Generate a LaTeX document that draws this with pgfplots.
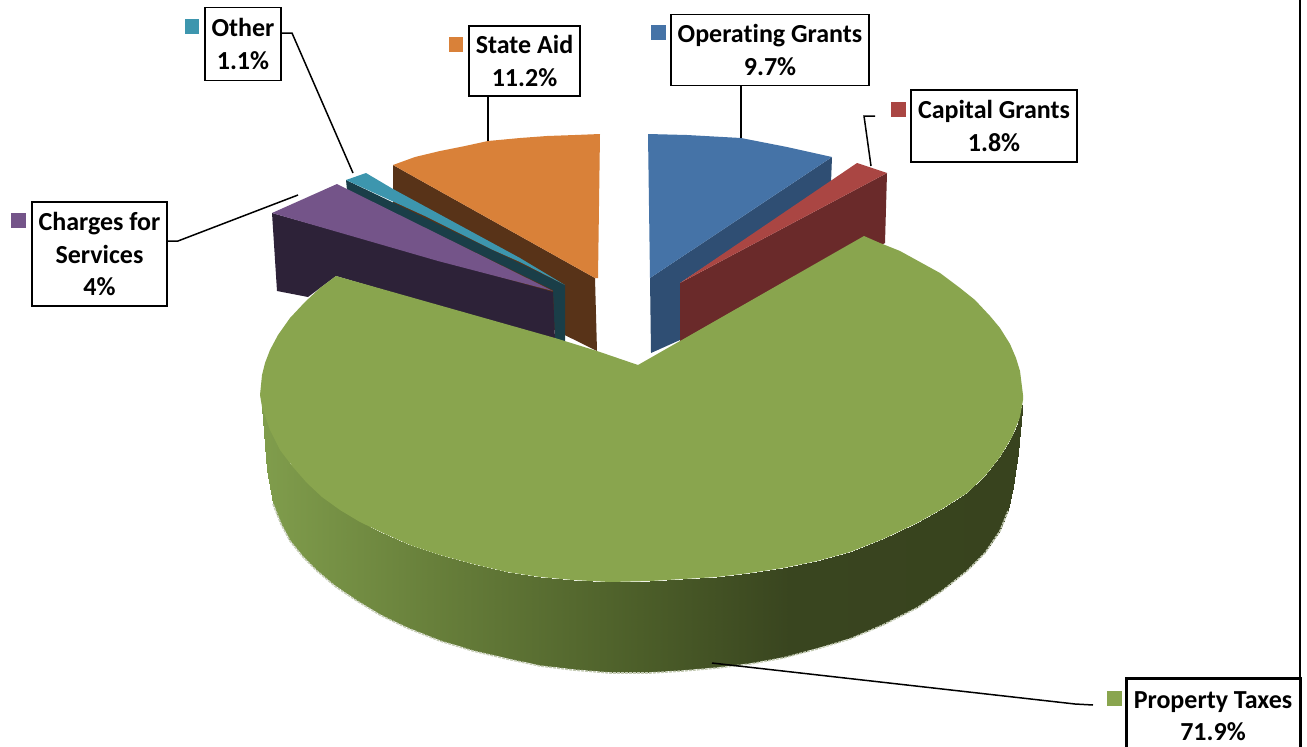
\documentclass[border=0pt]{standalone}
\usepackage{pgfplots}
\pgfplotsset{compat=1.18}
\usepackage{fontspec}
\setmainfont[RawFeature=-liga]{Carlito}
\definecolor{gtop}{RGB}{137,165,78}
\definecolor{btop}{RGB}{69,115,167}
\definecolor{bside}{RGB}{47,78,115}
\definecolor{rtop}{RGB}{170,70,67}
\definecolor{rside}{RGB}{106,42,42}
\definecolor{ptop}{RGB}{116,84,137}
\definecolor{pside}{RGB}{45,34,56}
\definecolor{ttop}{RGB}{61,150,174}
\definecolor{tside}{RGB}{26,62,72}
\definecolor{otop}{RGB}{217,129,57}
\definecolor{oside}{RGB}{88,51,24}
\definecolor{fringe}{RGB}{196,203,180}
\newcommand{\labfont}{\fontsize{26}{32.5}\selectfont\bfseries}
\tikzset{lab/.style={draw=black,fill=white,line width=1.5pt,align=center,inner sep=0pt,font=\labfont}}
\begin{document}
\begin{tikzpicture}[x=1pt,y=1pt]
\useasboundingbox (0,0) rectangle (1307,747);
\begin{axis}[
  at={(0,0)},anchor=south west,
  scale only axis,width=1307pt,height=747pt,
  xmin=0,xmax=1307,ymin=0,ymax=747,y dir=reverse,
  hide axis,clip=false,
  colormap={side}{rgb255(262pt)=(128,157,76) rgb255(430pt)=(104,128,59) rgb255(640pt)=(76,94,41) rgb255(790pt)=(57,69,31) rgb255(1022pt)=(56,67,30)},
]
% blue
\addplot[fill=bside,draw=none] coordinates {(832,157)(831,183)(680,283)(680,340)(651,353)(650,278)};
\addplot[fill=btop,draw=none] coordinates {(648,134)(687,135)(741,138)(787,147)(832,157)(650,278)};
% red
\addplot[fill=rside,draw=none] coordinates {(887,173)(885,243)(680,345)(680,283)};
\addplot[fill=rtop,draw=none] coordinates {(680,283)(857,163)(887,173)};
% orange
\addplot[fill=oside,draw=none] coordinates {(393,165)(595,278)(597,351)(393,250)};
\addplot[fill=otop,draw=none] coordinates {(393,165)(415,157)(440,151)(465,146)(488,141)(520,138)(547,136)(575,135)(600,134)(598,278)(595,278)};
% teal
\addplot[fill=tside,draw=none] coordinates {(346,180)(565,285)(565,342)(555,342)(553,290)(347,190)};
\addplot[fill=ttop,draw=none] coordinates {(346,180)(366,173)(393,189)(520,258)(565,285)(520,262)(493,250)(427,217)};
% purple
\addplot[fill=pside,draw=none] coordinates {(272,213)(553,292)(555,340)(336,276)(308,297)(277,291)};
\addplot[fill=ptop,draw=none] coordinates {(272,213)(337,184)(347,189)(553,291)(438,261)};
% green side
\addplot[patch,patch type=rectangle,shader=interp,point meta=x,point meta min=262,point meta max=1022] coordinates {
(262,407)(262,407)(267,470)(267,420)
(267,420)(267,470)(273,503)(273,436)
(273,436)(273,503)(281,523)(281,451)
(281,451)(281,523)(290,540)(290,464)
(290,464)(290,540)(303,556)(303,478)
(303,478)(303,556)(317,570)(317,492)
(317,492)(317,570)(336,586)(336,507)
(336,507)(336,586)(357,600)(357,520)
(357,520)(357,600)(380,614)(380,532)
(380,532)(380,614)(407,627)(407,544)
(407,544)(407,627)(440,640)(440,555)
(440,555)(440,640)(473,650)(473,564)
(473,564)(473,650)(507,658)(507,572)
(507,572)(507,658)(540,665)(540,577)
(540,577)(540,665)(573,669)(573,580)
(573,580)(573,669)(610,672)(610,582)
(610,582)(610,672)(650,672)(650,581)
(650,581)(650,672)(683,670)(683,579)
(683,579)(683,670)(717,667)(717,577)
(717,577)(717,667)(750,663)(750,573)
(750,573)(750,663)(783,657)(783,568)
(783,568)(783,657)(817,648)(817,561)
(817,561)(817,648)(850,638)(850,552)
(850,552)(850,638)(883,624)(883,539)
(883,539)(883,624)(917,607)(917,523)
(917,523)(917,607)(942,590)(942,509)
(942,509)(942,590)(967,570)(967,493)
(967,493)(967,570)(985,552)(985,476)
(985,476)(985,552)(1000,530)(1000,457)
(1000,457)(1000,530)(1008,510)(1008,444)
(1008,444)(1008,510)(1013,487)(1013,435)
(1013,435)(1013,487)(1018,453)(1018,423)
(1018,423)(1018,453)(1022,410)(1022,405)
};
\addplot[fringe,line width=1.6pt,dash pattern=on 3pt off 1pt] coordinates {(273,504)(281,524)(290,541)(303,557)(317,571)(336,587)(357,601)(380,615)(407,628)(440,641)(473,651)(507,659)(540,666)(573,670)(610,673)(650,673)(683,671)(717,668)(750,664)(783,658)(817,649)(850,639)(883,625)(917,608)(942,591)(967,571)(985,553)(1000,531)(1008,511)};
% green top
\addplot[fill=gtop,draw=none] coordinates {(638,365)(597,351)(555,338)(336,276)(320,288)(305,302)(290,318)(278,335)(270,350)(265,363)(262,375)(260,395)(262,407)(270,430)(280,450)(293,467)(307,483)(322,497)(340,510)(360,522)(383,533)(410,545)(440,555)(473,564)(507,572)(540,577)(573,580)(610,582)(650,581)(683,579)(717,577)(750,573)(783,568)(817,561)(850,552)(883,539)(917,523)(942,509)(967,493)(985,476)(1000,457)(1012,437)(1020,417)(1023,400)(1023,395)(1020,371)(1016,358)(1010,344)(1000,328)(990,316)(975,300)(960,288)(940,273)(920,262)(900,251)(880,243)(864,236)};
% leader lines
\addplot[black,line width=1.5pt] coordinates {(281,33)(292,33)(353,173)};
\addplot[black,line width=1.5pt] coordinates {(488,96)(488,141)};
\addplot[black,line width=1.5pt] coordinates {(167,241)(178,241)(298,195)};
\addplot[black,line width=1.5pt] coordinates {(741,85)(741,138)};
\addplot[black,line width=1.5pt] coordinates {(875,116)(864,116)(871,166)};
\addplot[black,line width=1.5pt] coordinates {(712,663)(1075,704)(1093,705)};
% right frame
\addplot[black,line width=2pt] coordinates {(1300,0)(1300,678)};
% legend keys
\addplot[fill=ttop,draw=none] coordinates {(185,19)(199,19)(199,34)(185,34)};
\addplot[fill=otop,draw=none] coordinates {(449,37)(463,37)(463,52)(449,52)};
\addplot[fill=btop,draw=none] coordinates {(651,25)(666,25)(666,40)(651,40)};
\addplot[fill=rtop,draw=none] coordinates {(891,102)(906,102)(906,117)(891,117)};
\addplot[fill=ptop,draw=none] coordinates {(11,213)(26,213)(26,228)(11,228)};
\addplot[fill=gtop,draw=none] coordinates {(1107,691)(1122,691)(1122,706)(1107,706)};
% labels
\node[lab,minimum width=76pt,minimum height=73pt] at (axis cs:243,44) {Other\\1.1\%};
\node[lab,minimum width=111pt,minimum height=70pt] at (axis cs:524.5,61) {State Aid\\11.2\%};
\node[lab,minimum width=198pt,minimum height=71pt] at (axis cs:770,50) {Operating Grants\\9.7\%};
\node[lab,minimum width=166pt,minimum height=72pt] at (axis cs:994,126) {Capital Grants\\1.8\%};
\node[lab,minimum width=135pt,minimum height=104pt] at (axis cs:99.5,254) {Charges for\\Services\\4\%};
\node[lab,line width=3pt,minimum width=174pt,minimum height=76pt] at (axis cs:1213,716) {Property Taxes\\71.9\%};
\end{axis}
\end{tikzpicture}
\end{document}
